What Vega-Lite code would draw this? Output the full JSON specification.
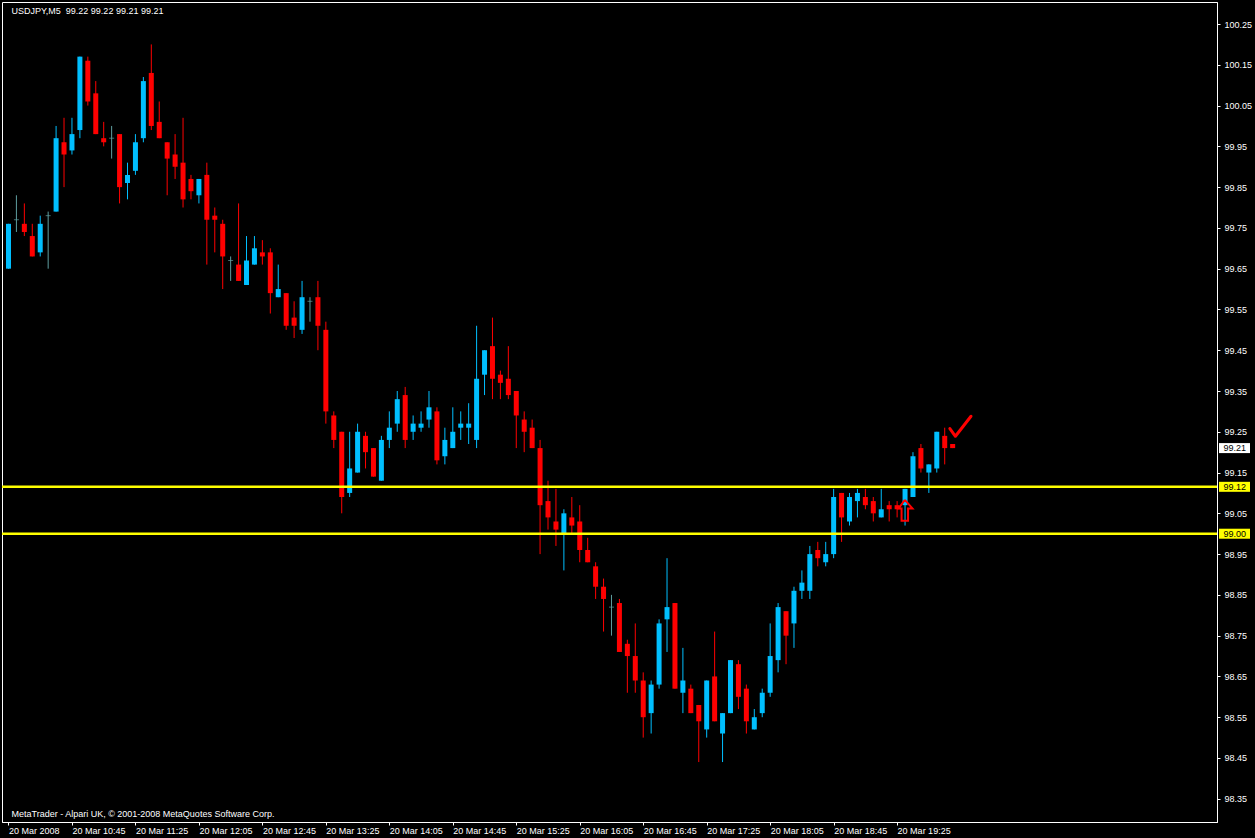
{
  "$schema": "https://vega.github.io/schema/vega-lite/v6.json",
  "width": 1215,
  "height": 820,
  "autosize": {"type": "none"},
  "padding": {"left": 2, "top": 2, "right": 38, "bottom": 16},
  "background": "#000000",
  "config": {
    "view": {"stroke": "#ffffff", "strokeWidth": 1},
    "axis": {"labelFont": "Liberation Sans", "labelFontSize": 9, "labelColor": "#ffffff", "domainColor": "#ffffff", "tickColor": "#ffffff", "grid": false},
    "text": {"font": "Liberation Sans", "fontSize": 9}
  },
  "datasets": {
    "candles": [
      {"t":"2008-03-20T10:05:00Z","o":99.65,"h":99.76,"l":99.65,"c":99.76},
      {"t":"2008-03-20T10:10:00Z","o":99.77,"h":99.83,"l":99.74,"c":99.77},
      {"t":"2008-03-20T10:15:00Z","o":99.76,"h":99.81,"l":99.73,"c":99.74},
      {"t":"2008-03-20T10:20:00Z","o":99.73,"h":99.76,"l":99.68,"c":99.68},
      {"t":"2008-03-20T10:25:00Z","o":99.69,"h":99.78,"l":99.68,"c":99.76},
      {"t":"2008-03-20T10:30:00Z","o":99.78,"h":99.79,"l":99.65,"c":99.78},
      {"t":"2008-03-20T10:35:00Z","o":99.79,"h":100.00,"l":99.79,"c":99.97},
      {"t":"2008-03-20T10:40:00Z","o":99.96,"h":100.02,"l":99.85,"c":99.93},
      {"t":"2008-03-20T10:45:00Z","o":99.94,"h":100.02,"l":99.93,"c":99.98},
      {"t":"2008-03-20T10:50:00Z","o":99.99,"h":100.17,"l":99.97,"c":100.17},
      {"t":"2008-03-20T10:55:00Z","o":100.16,"h":100.17,"l":100.05,"c":100.06},
      {"t":"2008-03-20T11:00:00Z","o":100.08,"h":100.11,"l":99.98,"c":99.98},
      {"t":"2008-03-20T11:05:00Z","o":99.97,"h":100.01,"l":99.95,"c":99.96},
      {"t":"2008-03-20T11:10:00Z","o":99.97,"h":100.00,"l":99.92,"c":99.97},
      {"t":"2008-03-20T11:15:00Z","o":99.98,"h":99.98,"l":99.81,"c":99.85},
      {"t":"2008-03-20T11:20:00Z","o":99.86,"h":99.91,"l":99.82,"c":99.88},
      {"t":"2008-03-20T11:25:00Z","o":99.89,"h":99.98,"l":99.88,"c":99.96},
      {"t":"2008-03-20T11:30:00Z","o":99.97,"h":100.12,"l":99.96,"c":100.11},
      {"t":"2008-03-20T11:35:00Z","o":100.13,"h":100.20,"l":99.99,"c":100.00},
      {"t":"2008-03-20T11:40:00Z","o":100.01,"h":100.06,"l":99.97,"c":99.97},
      {"t":"2008-03-20T11:45:00Z","o":99.96,"h":99.96,"l":99.83,"c":99.92},
      {"t":"2008-03-20T11:50:00Z","o":99.93,"h":99.98,"l":99.87,"c":99.90},
      {"t":"2008-03-20T11:55:00Z","o":99.91,"h":100.02,"l":99.80,"c":99.82},
      {"t":"2008-03-20T12:00:00Z","o":99.87,"h":99.88,"l":99.82,"c":99.84},
      {"t":"2008-03-20T12:05:00Z","o":99.83,"h":99.87,"l":99.81,"c":99.87},
      {"t":"2008-03-20T12:10:00Z","o":99.88,"h":99.91,"l":99.66,"c":99.77},
      {"t":"2008-03-20T12:15:00Z","o":99.78,"h":99.80,"l":99.69,"c":99.77},
      {"t":"2008-03-20T12:20:00Z","o":99.76,"h":99.77,"l":99.60,"c":99.68},
      {"t":"2008-03-20T12:25:00Z","o":99.67,"h":99.68,"l":99.62,"c":99.67},
      {"t":"2008-03-20T12:30:00Z","o":99.66,"h":99.81,"l":99.62,"c":99.62},
      {"t":"2008-03-20T12:35:00Z","o":99.61,"h":99.73,"l":99.61,"c":99.67},
      {"t":"2008-03-20T12:40:00Z","o":99.66,"h":99.73,"l":99.66,"c":99.70},
      {"t":"2008-03-20T12:45:00Z","o":99.69,"h":99.72,"l":99.66,"c":99.68},
      {"t":"2008-03-20T12:50:00Z","o":99.69,"h":99.70,"l":99.54,"c":99.59},
      {"t":"2008-03-20T12:55:00Z","o":99.58,"h":99.66,"l":99.58,"c":99.60},
      {"t":"2008-03-20T13:00:00Z","o":99.59,"h":99.59,"l":99.50,"c":99.51},
      {"t":"2008-03-20T13:05:00Z","o":99.53,"h":99.57,"l":99.48,"c":99.51},
      {"t":"2008-03-20T13:10:00Z","o":99.50,"h":99.62,"l":99.49,"c":99.58},
      {"t":"2008-03-20T13:15:00Z","o":99.57,"h":99.58,"l":99.52,"c":99.57},
      {"t":"2008-03-20T13:20:00Z","o":99.58,"h":99.62,"l":99.45,"c":99.51},
      {"t":"2008-03-20T13:25:00Z","o":99.50,"h":99.52,"l":99.27,"c":99.30},
      {"t":"2008-03-20T13:30:00Z","o":99.29,"h":99.30,"l":99.21,"c":99.23},
      {"t":"2008-03-20T13:35:00Z","o":99.25,"h":99.25,"l":99.05,"c":99.09},
      {"t":"2008-03-20T13:40:00Z","o":99.10,"h":99.25,"l":99.09,"c":99.16},
      {"t":"2008-03-20T13:45:00Z","o":99.15,"h":99.27,"l":99.15,"c":99.25},
      {"t":"2008-03-20T13:50:00Z","o":99.24,"h":99.25,"l":99.16,"c":99.20},
      {"t":"2008-03-20T13:55:00Z","o":99.21,"h":99.21,"l":99.14,"c":99.14},
      {"t":"2008-03-20T14:00:00Z","o":99.13,"h":99.24,"l":99.13,"c":99.23},
      {"t":"2008-03-20T14:05:00Z","o":99.23,"h":99.30,"l":99.21,"c":99.26},
      {"t":"2008-03-20T14:10:00Z","o":99.27,"h":99.35,"l":99.25,"c":99.33},
      {"t":"2008-03-20T14:15:00Z","o":99.34,"h":99.36,"l":99.21,"c":99.23},
      {"t":"2008-03-20T14:20:00Z","o":99.25,"h":99.29,"l":99.23,"c":99.27},
      {"t":"2008-03-20T14:25:00Z","o":99.26,"h":99.30,"l":99.25,"c":99.27},
      {"t":"2008-03-20T14:30:00Z","o":99.28,"h":99.35,"l":99.26,"c":99.31},
      {"t":"2008-03-20T14:35:00Z","o":99.30,"h":99.31,"l":99.17,"c":99.18},
      {"t":"2008-03-20T14:40:00Z","o":99.19,"h":99.26,"l":99.17,"c":99.23},
      {"t":"2008-03-20T14:45:00Z","o":99.21,"h":99.31,"l":99.21,"c":99.25},
      {"t":"2008-03-20T14:50:00Z","o":99.26,"h":99.30,"l":99.23,"c":99.27},
      {"t":"2008-03-20T14:55:00Z","o":99.26,"h":99.32,"l":99.22,"c":99.27},
      {"t":"2008-03-20T15:00:00Z","o":99.23,"h":99.51,"l":99.21,"c":99.38},
      {"t":"2008-03-20T15:05:00Z","o":99.39,"h":99.45,"l":99.34,"c":99.45},
      {"t":"2008-03-20T15:10:00Z","o":99.46,"h":99.53,"l":99.33,"c":99.38},
      {"t":"2008-03-20T15:15:00Z","o":99.39,"h":99.40,"l":99.33,"c":99.37},
      {"t":"2008-03-20T15:20:00Z","o":99.38,"h":99.46,"l":99.33,"c":99.34},
      {"t":"2008-03-20T15:25:00Z","o":99.35,"h":99.35,"l":99.21,"c":99.29},
      {"t":"2008-03-20T15:30:00Z","o":99.28,"h":99.30,"l":99.20,"c":99.25},
      {"t":"2008-03-20T15:35:00Z","o":99.26,"h":99.28,"l":99.21,"c":99.21},
      {"t":"2008-03-20T15:40:00Z","o":99.21,"h":99.23,"l":98.95,"c":99.07},
      {"t":"2008-03-20T15:45:00Z","o":99.08,"h":99.13,"l":99.01,"c":99.04},
      {"t":"2008-03-20T15:50:00Z","o":99.03,"h":99.11,"l":98.97,"c":99.01},
      {"t":"2008-03-20T15:55:00Z","o":99.00,"h":99.06,"l":98.91,"c":99.05},
      {"t":"2008-03-20T16:00:00Z","o":99.04,"h":99.09,"l":99.00,"c":99.02},
      {"t":"2008-03-20T16:05:00Z","o":99.03,"h":99.07,"l":98.93,"c":98.96},
      {"t":"2008-03-20T16:10:00Z","o":98.96,"h":98.99,"l":98.93,"c":98.93},
      {"t":"2008-03-20T16:15:00Z","o":98.92,"h":98.93,"l":98.84,"c":98.87},
      {"t":"2008-03-20T16:20:00Z","o":98.87,"h":98.89,"l":98.76,"c":98.84},
      {"t":"2008-03-20T16:25:00Z","o":98.82,"h":98.85,"l":98.75,"c":98.82},
      {"t":"2008-03-20T16:30:00Z","o":98.83,"h":98.84,"l":98.71,"c":98.71},
      {"t":"2008-03-20T16:35:00Z","o":98.73,"h":98.74,"l":98.61,"c":98.70},
      {"t":"2008-03-20T16:40:00Z","o":98.70,"h":98.78,"l":98.61,"c":98.64},
      {"t":"2008-03-20T16:45:00Z","o":98.64,"h":98.66,"l":98.50,"c":98.55},
      {"t":"2008-03-20T16:50:00Z","o":98.56,"h":98.64,"l":98.51,"c":98.63},
      {"t":"2008-03-20T16:55:00Z","o":98.63,"h":98.79,"l":98.62,"c":98.78},
      {"t":"2008-03-20T17:00:00Z","o":98.79,"h":98.94,"l":98.71,"c":98.82},
      {"t":"2008-03-20T17:05:00Z","o":98.83,"h":98.83,"l":98.62,"c":98.62},
      {"t":"2008-03-20T17:10:00Z","o":98.61,"h":98.72,"l":98.56,"c":98.64},
      {"t":"2008-03-20T17:15:00Z","o":98.62,"h":98.63,"l":98.56,"c":98.56},
      {"t":"2008-03-20T17:20:00Z","o":98.58,"h":98.58,"l":98.44,"c":98.54},
      {"t":"2008-03-20T17:25:00Z","o":98.52,"h":98.64,"l":98.50,"c":98.64},
      {"t":"2008-03-20T17:30:00Z","o":98.65,"h":98.76,"l":98.54,"c":98.54},
      {"t":"2008-03-20T17:35:00Z","o":98.51,"h":98.56,"l":98.44,"c":98.56},
      {"t":"2008-03-20T17:40:00Z","o":98.56,"h":98.69,"l":98.56,"c":98.69},
      {"t":"2008-03-20T17:45:00Z","o":98.68,"h":98.69,"l":98.57,"c":98.60},
      {"t":"2008-03-20T17:50:00Z","o":98.62,"h":98.63,"l":98.51,"c":98.54},
      {"t":"2008-03-20T17:55:00Z","o":98.52,"h":98.57,"l":98.52,"c":98.55},
      {"t":"2008-03-20T18:00:00Z","o":98.56,"h":98.62,"l":98.55,"c":98.61},
      {"t":"2008-03-20T18:05:00Z","o":98.61,"h":98.78,"l":98.60,"c":98.70},
      {"t":"2008-03-20T18:10:00Z","o":98.69,"h":98.83,"l":98.66,"c":98.82},
      {"t":"2008-03-20T18:15:00Z","o":98.81,"h":98.81,"l":98.68,"c":98.75},
      {"t":"2008-03-20T18:20:00Z","o":98.78,"h":98.87,"l":98.72,"c":98.86},
      {"t":"2008-03-20T18:25:00Z","o":98.86,"h":98.91,"l":98.84,"c":98.88},
      {"t":"2008-03-20T18:30:00Z","o":98.86,"h":98.97,"l":98.84,"c":98.95},
      {"t":"2008-03-20T18:35:00Z","o":98.96,"h":98.98,"l":98.92,"c":98.94},
      {"t":"2008-03-20T18:40:00Z","o":98.93,"h":98.98,"l":98.92,"c":98.95},
      {"t":"2008-03-20T18:45:00Z","o":98.95,"h":99.11,"l":98.94,"c":99.09},
      {"t":"2008-03-20T18:50:00Z","o":99.10,"h":99.10,"l":98.98,"c":99.04},
      {"t":"2008-03-20T18:55:00Z","o":99.03,"h":99.10,"l":99.02,"c":99.09},
      {"t":"2008-03-20T19:00:00Z","o":99.08,"h":99.11,"l":99.04,"c":99.10},
      {"t":"2008-03-20T19:05:00Z","o":99.09,"h":99.11,"l":99.06,"c":99.07},
      {"t":"2008-03-20T19:10:00Z","o":99.08,"h":99.09,"l":99.03,"c":99.05},
      {"t":"2008-03-20T19:15:00Z","o":99.04,"h":99.11,"l":99.04,"c":99.06},
      {"t":"2008-03-20T19:20:00Z","o":99.07,"h":99.08,"l":99.03,"c":99.06},
      {"t":"2008-03-20T19:25:00Z","o":99.07,"h":99.08,"l":99.04,"c":99.06},
      {"t":"2008-03-20T19:30:00Z","o":99.07,"h":99.11,"l":99.02,"c":99.11},
      {"t":"2008-03-20T19:35:00Z","o":99.09,"h":99.20,"l":99.09,"c":99.19},
      {"t":"2008-03-20T19:40:00Z","o":99.21,"h":99.22,"l":99.15,"c":99.16},
      {"t":"2008-03-20T19:45:00Z","o":99.15,"h":99.17,"l":99.10,"c":99.17},
      {"t":"2008-03-20T19:50:00Z","o":99.16,"h":99.25,"l":99.15,"c":99.25},
      {"t":"2008-03-20T19:55:00Z","o":99.24,"h":99.26,"l":99.17,"c":99.21},
      {"t":"2008-03-20T20:00:00Z","o":99.22,"h":99.22,"l":99.21,"c":99.21}
    ],
    "levels": [
      {"p": 99.21, "label": "99.21", "kind": "price"},
      {"p": 99.115, "label": "99.12", "kind": "line"},
      {"p": 99.0, "label": "99.00", "kind": "line"}
    ],
    "drawings": [
      {"g":"arrow","k":1,"t":"2008-03-20T19:29:53Z","p":99.083},
      {"g":"arrow","k":2,"t":"2008-03-20T19:34:41Z","p":99.062},
      {"g":"arrow","k":3,"t":"2008-03-20T19:31:53Z","p":99.062},
      {"g":"arrow","k":4,"t":"2008-03-20T19:31:53Z","p":99.032},
      {"g":"arrow","k":5,"t":"2008-03-20T19:27:48Z","p":99.032},
      {"g":"arrow","k":6,"t":"2008-03-20T19:27:48Z","p":99.062},
      {"g":"arrow","k":7,"t":"2008-03-20T19:25:56Z","p":99.062},
      {"g":"arrow","k":8,"t":"2008-03-20T19:29:53Z","p":99.083},
      {"g":"check","k":1,"t":"2008-03-20T19:58:15Z","p":99.258},
      {"g":"check","k":2,"t":"2008-03-20T20:01:45Z","p":99.239},
      {"g":"check","k":3,"t":"2008-03-20T20:11:34Z","p":99.288}
    ],
    "notes": [
      {"text": "USDJPY,M5 \u00a099.22 99.22 99.21 99.21", "pos": "top"},
      {"text": "MetaTrader - Alpari UK, © 2001-2008 MetaQuotes Software Corp.", "pos": "bottom"}
    ]
  },
  "layer": [
    {
      "data": {"name": "candles"},
      "mark": {"type": "rule", "strokeWidth": 1},
      "encoding": {
        "x": {"field": "t", "type": "temporal",
          "scale": {"type": "utc", "nice": false, "domain": [{"year":2008,"month":3,"date":20,"hours":10,"minutes":4,"seconds":3,"milliseconds":750,"utc":true},{"year":2008,"month":3,"date":20,"hours":22,"minutes":43,"seconds":26,"milliseconds":250,"utc":true}]},
          "axis": {
            "orient": "bottom",
            "values": [
              {"year":2008,"month":3,"date":20,"hours":10,"minutes":5,"utc":true},
              {"year":2008,"month":3,"date":20,"hours":10,"minutes":45,"utc":true},
              {"year":2008,"month":3,"date":20,"hours":11,"minutes":25,"utc":true},
              {"year":2008,"month":3,"date":20,"hours":12,"minutes":5,"utc":true},
              {"year":2008,"month":3,"date":20,"hours":12,"minutes":45,"utc":true},
              {"year":2008,"month":3,"date":20,"hours":13,"minutes":25,"utc":true},
              {"year":2008,"month":3,"date":20,"hours":14,"minutes":5,"utc":true},
              {"year":2008,"month":3,"date":20,"hours":14,"minutes":45,"utc":true},
              {"year":2008,"month":3,"date":20,"hours":15,"minutes":25,"utc":true},
              {"year":2008,"month":3,"date":20,"hours":16,"minutes":5,"utc":true},
              {"year":2008,"month":3,"date":20,"hours":16,"minutes":45,"utc":true},
              {"year":2008,"month":3,"date":20,"hours":17,"minutes":25,"utc":true},
              {"year":2008,"month":3,"date":20,"hours":18,"minutes":5,"utc":true},
              {"year":2008,"month":3,"date":20,"hours":18,"minutes":45,"utc":true},
              {"year":2008,"month":3,"date":20,"hours":19,"minutes":25,"utc":true}
            ],
            "labelExpr": "utcFormat(datum.value, '%H:%M') === '10:05' ? '20 Mar 2008' : '20 Mar ' + utcFormat(datum.value, '%H:%M')",
            "labelAlign": "left",
            "labelBaseline": "top",
            "labelPadding": 1,
            "tickSize": 3,
            "labelOverlap": false,
            "labelFlush": false,
            "title": null
          }
        },
        "y": {"field": "l", "type": "quantitative",
          "scale": {"domain": [98.293, 100.304], "nice": false, "zero": false},
          "axis": {
            "orient": "right",
            "values": [98.35, 98.45, 98.55, 98.65, 98.75, 98.85, 98.95, 99.05, 99.15, 99.25, 99.35, 99.45, 99.55, 99.65, 99.75, 99.85, 99.95, 100.05, 100.15, 100.25],
            "format": ".2f",
            "tickSize": 3,
            "labelPadding": 4,
            "labelAlign": "left",
            "labelBaseline": "middle",
            "labelFlush": false,
            "labelOverlap": false,
            "title": null
          }
        },
        "y2": {"field": "h"},
        "color": {"condition": [{"test": "datum.c > datum.o", "value": "#00bfff"}, {"test": "datum.c < datum.o", "value": "#ff0000"}], "value": "#5f9ea0"}
      }
    },
    {
      "data": {"name": "candles"},
      "transform": [{"filter": "datum.o != datum.c"}],
      "mark": {"type": "bar", "size": 5},
      "encoding": {
        "x": {"field": "t", "type": "temporal",
          "scale": {"type": "utc", "nice": false, "domain": [{"year":2008,"month":3,"date":20,"hours":10,"minutes":4,"seconds":3,"milliseconds":750,"utc":true},{"year":2008,"month":3,"date":20,"hours":22,"minutes":43,"seconds":26,"milliseconds":250,"utc":true}]}},
        "y": {"field": "o", "type": "quantitative", "scale": {"domain": [98.293, 100.304], "nice": false, "zero": false}},
        "y2": {"field": "c"},
        "color": {"condition": {"test": "datum.c > datum.o", "value": "#00bfff"}, "value": "#ff0000"}
      }
    },
    {
      "data": {"name": "candles"},
      "transform": [{"filter": "datum.o == datum.c"}],
      "mark": {"type": "tick", "orient": "horizontal", "size": 5, "thickness": 1, "color": "#5f9ea0"},
      "encoding": {
        "x": {"field": "t", "type": "temporal",
          "scale": {"type": "utc", "nice": false, "domain": [{"year":2008,"month":3,"date":20,"hours":10,"minutes":4,"seconds":3,"milliseconds":750,"utc":true},{"year":2008,"month":3,"date":20,"hours":22,"minutes":43,"seconds":26,"milliseconds":250,"utc":true}]}},
        "y": {"field": "o", "type": "quantitative", "scale": {"domain": [98.293, 100.304], "nice": false, "zero": false}}
      }
    },
    {
      "data": {"name": "levels"},
      "transform": [{"filter": "datum.kind == 'line'"}],
      "mark": {"type": "rule", "color": "#ffff00", "strokeWidth": 2.5},
      "encoding": {
        "y": {"field": "p", "type": "quantitative", "scale": {"domain": [98.293, 100.304], "nice": false, "zero": false}}
      }
    },
    {
      "data": {"name": "drawings"},
      "transform": [{"filter": "datum.g == 'arrow'"}],
      "mark": {"type": "line", "color": "#ff0000", "strokeWidth": 2, "strokeJoin": "miter"},
      "encoding": {
        "x": {"field": "t", "type": "temporal",
          "scale": {"type": "utc", "nice": false, "domain": [{"year":2008,"month":3,"date":20,"hours":10,"minutes":4,"seconds":3,"milliseconds":750,"utc":true},{"year":2008,"month":3,"date":20,"hours":22,"minutes":43,"seconds":26,"milliseconds":250,"utc":true}]}},
        "y": {"field": "p", "type": "quantitative", "scale": {"domain": [98.293, 100.304], "nice": false, "zero": false}},
        "order": {"field": "k", "type": "quantitative"}
      }
    },
    {
      "data": {"name": "drawings"},
      "transform": [{"filter": "datum.g == 'check'"}],
      "mark": {"type": "line", "color": "#ff0000", "strokeWidth": 3, "strokeCap": "round", "strokeJoin": "round"},
      "encoding": {
        "x": {"field": "t", "type": "temporal",
          "scale": {"type": "utc", "nice": false, "domain": [{"year":2008,"month":3,"date":20,"hours":10,"minutes":4,"seconds":3,"milliseconds":750,"utc":true},{"year":2008,"month":3,"date":20,"hours":22,"minutes":43,"seconds":26,"milliseconds":250,"utc":true}]}},
        "y": {"field": "p", "type": "quantitative", "scale": {"domain": [98.293, 100.304], "nice": false, "zero": false}},
        "order": {"field": "k", "type": "quantitative"}
      }
    },
    {
      "data": {"name": "levels"},
      "mark": {"type": "rect", "xOffset": 2, "x2Offset": 33, "yOffset": -5, "y2Offset": 5, "clip": false},
      "encoding": {
        "x": {"value": "width"},
        "x2": {"value": "width"},
        "y": {"field": "p", "type": "quantitative", "scale": {"domain": [98.293, 100.304], "nice": false, "zero": false}},
        "y2": {"field": "p"},
        "color": {"condition": {"test": "datum.kind == 'price'", "value": "#ffffff"}, "value": "#ffff00"}
      }
    },
    {
      "data": {"name": "levels"},
      "mark": {"type": "text", "align": "left", "baseline": "middle", "dx": 6.5, "color": "#000000", "clip": false},
      "encoding": {
        "x": {"value": "width"},
        "y": {"field": "p", "type": "quantitative", "scale": {"domain": [98.293, 100.304], "nice": false, "zero": false}},
        "text": {"field": "label"}
      }
    },
    {
      "data": {"name": "notes"},
      "transform": [{"filter": "datum.pos == 'top'"}],
      "mark": {"type": "text", "align": "left", "baseline": "alphabetic", "dx": 3, "dy": 12, "color": "#ffffff"},
      "encoding": {
        "x": {"datum": {"year":2008,"month":3,"date":20,"hours":10,"minutes":5,"utc":true}, "type": "temporal",
          "scale": {"type": "utc", "nice": false, "domain": [{"year":2008,"month":3,"date":20,"hours":10,"minutes":4,"seconds":3,"milliseconds":750,"utc":true},{"year":2008,"month":3,"date":20,"hours":22,"minutes":43,"seconds":26,"milliseconds":250,"utc":true}]}},
        "y": {"datum": 100.304, "type": "quantitative", "scale": {"domain": [98.293, 100.304], "nice": false, "zero": false}},
        "text": {"field": "text"}
      }
    },
    {
      "data": {"name": "notes"},
      "transform": [{"filter": "datum.pos == 'bottom'"}],
      "mark": {"type": "text", "align": "left", "baseline": "alphabetic", "dx": 3, "dy": -5, "color": "#ffffff"},
      "encoding": {
        "x": {"datum": {"year":2008,"month":3,"date":20,"hours":10,"minutes":5,"utc":true}, "type": "temporal",
          "scale": {"type": "utc", "nice": false, "domain": [{"year":2008,"month":3,"date":20,"hours":10,"minutes":4,"seconds":3,"milliseconds":750,"utc":true},{"year":2008,"month":3,"date":20,"hours":22,"minutes":43,"seconds":26,"milliseconds":250,"utc":true}]}},
        "y": {"datum": 98.293, "type": "quantitative", "scale": {"domain": [98.293, 100.304], "nice": false, "zero": false}},
        "text": {"field": "text"}
      }
    }
  ]
}
